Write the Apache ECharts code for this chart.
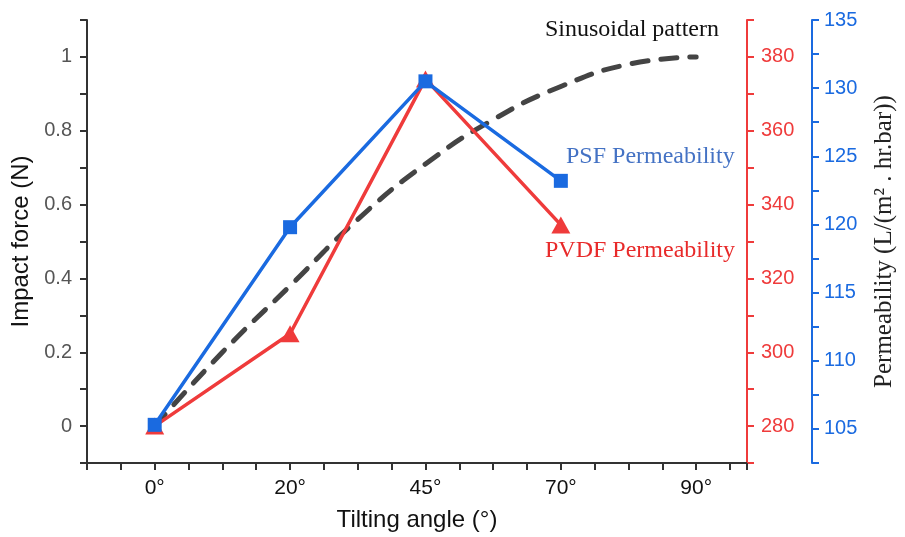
<!DOCTYPE html>
<html>
<head>
<meta charset="utf-8">
<script src="https://cdn.jsdelivr.net/npm/echarts@6/dist/echarts.min.js"></script>
<style>
  html, body { margin: 0; padding: 0; background: #fff; }
  #chart { width: 905px; height: 537px; }
</style>
</head>
<body>
<div id="chart"></div>
<script>
// x positions are the index of each tilting angle
const angleLabels = ['0°', '20°', '45°', '70°', '90°']
const angleIndex = [0, 1, 2, 3]
// PSF permeability (blue axis), PVDF permeability (red axis)
const psfPerm = [105.3, 119.8, 130.5, 123.2]
const pvdfPerm = [280, 305, 374, 334.5]
// dashed "sinusoidal pattern" (impact force axis)
const sinusoidX = [0, 0.5, 1, 1.5, 2, 2.5, 3, 3.5, 4]
const sinusoidForce = [0, 0.2, 0.38, 0.56, 0.71, 0.83, 0.92, 0.98, 1.0]

const RED = '#ef3b3b'
const BLUE = '#1a6ae0'
const DARK = '#333'

const chart = echarts.init(document.getElementById('chart'))

const option = {
  animation: false,
  grid: { left: 87, right: 157, top: 20, bottom: 73 },
  xAxis: {
    type: 'value',
    min: -0.5,
    max: 4.375,
    interval: 0.25,
    name: 'Tilting angle (°)',
    nameLocation: 'middle',
    nameGap: 45,
    nameTextStyle: { fontFamily: 'Liberation Sans', fontSize: 24, color: '#111' },
    axisLine: { onZero: false, lineStyle: { color: DARK, width: 2 } },
    axisTick: { length: 7, lineStyle: { color: DARK, width: 2 } },
    splitLine: { show: false },
    axisLabel: {
      margin: 15,
      fontFamily: 'Liberation Sans',
      fontSize: 21,
      color: '#111',
      formatter: function (v) {
        const r = Math.round(v * 100) / 100
        return Number.isInteger(r) && r >= 0 && r < angleLabels.length ? angleLabels[r] : ''
      }
    }
  },
  yAxis: [
    {
      type: 'value',
      position: 'left',
      min: -0.1,
      max: 1.1,
      interval: 0.1,
      name: 'Impact force (N)',
      nameLocation: 'middle',
      nameRotate: 90,
      nameGap: 47,
      nameTextStyle: { fontFamily: 'Liberation Sans', fontSize: 24, color: '#111' },
      axisLine: { show: true, onZero: false, lineStyle: { color: DARK, width: 2 } },
      axisTick: { show: true, length: 7, lineStyle: { color: DARK, width: 2 } },
      splitLine: { show: false },
      axisLabel: {
        margin: 15,
        fontFamily: 'Liberation Sans',
        fontSize: 20,
        color: '#555',
        formatter: function (v) {
          const k = Math.round(v * 10)
          if (k < 0 || k > 10 || k % 2 !== 0) return ''
          return k === 0 ? '0' : k === 10 ? '1' : (k / 10).toFixed(1)
        }
      }
    },
    {
      type: 'value',
      position: 'right',
      min: 270,
      max: 390,
      interval: 10,
      axisLine: { show: true, onZero: false, lineStyle: { color: RED, width: 2 } },
      axisTick: { show: true, length: 7, lineStyle: { color: RED, width: 2 } },
      splitLine: { show: false },
      axisLabel: {
        margin: 14,
        fontFamily: 'Liberation Sans',
        fontSize: 20,
        color: RED,
        formatter: function (v) {
          return v % 20 === 0 && v >= 280 && v <= 380 ? String(v) : ''
        }
      }
    },
    {
      type: 'value',
      position: 'right',
      offset: 65,
      min: 102.5,
      max: 135,
      interval: 2.5,
      name: 'Permeability (L/(m² . hr.bar))',
      nameLocation: 'middle',
      nameRotate: 90,
      nameGap: 60,
      nameTextStyle: { fontFamily: 'Liberation Serif', fontSize: 25, color: '#222' },
      axisLine: { show: true, onZero: false, lineStyle: { color: BLUE, width: 2 } },
      axisTick: { show: true, length: 7, lineStyle: { color: BLUE, width: 2 } },
      splitLine: { show: false },
      axisLabel: {
        margin: 12,
        fontFamily: 'Liberation Sans',
        fontSize: 20,
        color: BLUE,
        formatter: function (v) {
          return Math.abs(v % 5) < 1e-6 ? String(v) : ''
        }
      }
    }
  ],
  series: [
    {
      name: 'Sinusoidal pattern',
      type: 'line',
      yAxisIndex: 0,
      smooth: true,
      symbol: 'none',
      lineStyle: { color: '#444', width: 5, type: [16, 13], cap: 'round' },
      data: sinusoidX.map((x, i) => [x, sinusoidForce[i]]),
      z: 1
    },
    {
      name: 'PVDF Permeability',
      type: 'line',
      yAxisIndex: 1,
      symbol: 'triangle',
      symbolSize: [19, 17],
      itemStyle: { color: RED },
      lineStyle: { color: RED, width: 3.5 },
      data: angleIndex.map((x, i) => [x, pvdfPerm[i]]),
      z: 2
    },
    {
      name: 'PSF Permeability',
      type: 'line',
      yAxisIndex: 2,
      symbol: 'rect',
      symbolSize: 14,
      itemStyle: { color: BLUE },
      lineStyle: { color: BLUE, width: 3.5 },
      data: angleIndex.map((x, i) => [x, psfPerm[i]]),
      z: 3
    }
  ],
  graphic: [
    {
      type: 'text', left: 545, top: 18,
      style: { text: 'Sinusoidal pattern', font: '24px "Liberation Serif"', fill: '#111' }
    },
    {
      type: 'text', left: 566, top: 145,
      style: { text: 'PSF Permeability', font: '24px "Liberation Serif"', fill: '#4472c4' }
    },
    {
      type: 'text', left: 545, top: 239,
      style: { text: 'PVDF Permeability', font: '24px "Liberation Serif"', fill: '#e82a2a' }
    }
  ]
}

chart.setOption(option)
window.addEventListener('resize', function () {
  chart.resize()
})
</script>
</body>
</html>
